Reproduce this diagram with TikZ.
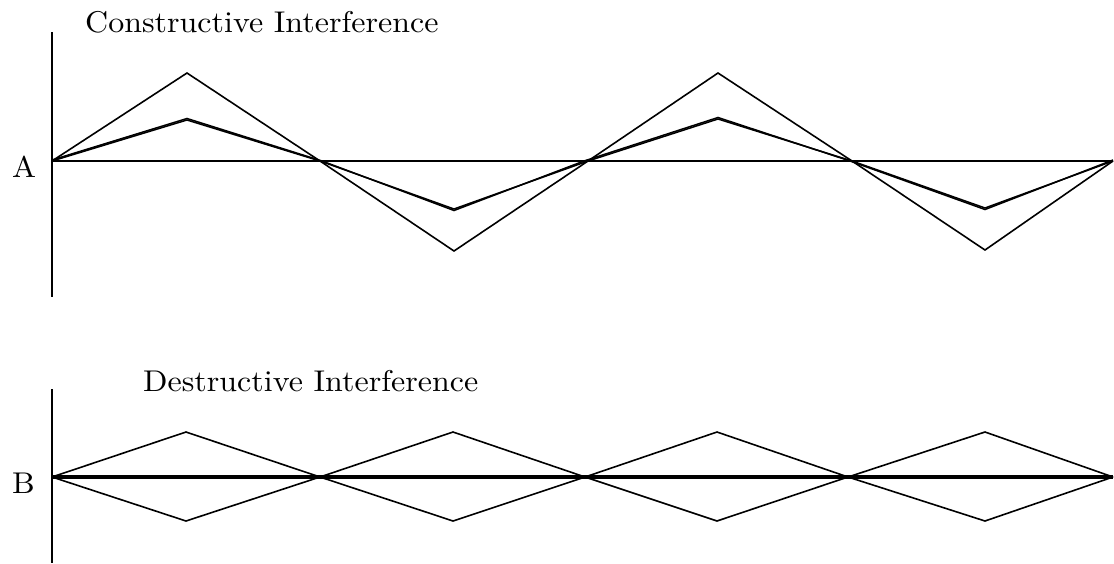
\documentclass[tikz,border=0pt]{standalone}
\usepackage{fontspec}
\newcommand{\bigtext}[1]{\scalebox{3.2}[3.0]{\fontsize{10}{12}\selectfont #1}}
\begin{document}
\begin{tikzpicture}[x=1pt,y=-1pt,
  thinline/.style={line width=1.6pt,line join=miter},
  sumline/.style={line width=1.5pt,line join=miter},
  label/.style={anchor=base west,inner sep=0pt}]
\useasboundingbox (0,0) rectangle (1114,563);
\fill[white] (0,0) rectangle (1114,563);

% --- constructive interference ---
\node[label] (titleA) at (85,32) {\bigtext{Constructive Interference}};
\node[label] (labA) at (12,177) {\bigtext{A}};
\draw[thinline] (52,32) -- (52,297);
\draw[thinline] (52,161) -- (1113,161);
% resulting wave
\draw[thinline] (52,161) -- (187,73) -- (320,161) -- (454,251) -- (588,161)
  -- (718,73) -- (852,161) -- (985,250) -- (1113,161);
% the two component waves, nearly on top of each other
\draw[sumline] (52,161) -- (187,120) -- (320,161) -- (454,209) -- (588,161)
  -- (718,119) -- (852,161) -- (985,208) -- (1113,161);
\draw[sumline] (52,160) -- (187,118.5) -- (322,161) -- (454,210.5) -- (584,161)
  -- (718,117.5) -- (850,161) -- (985,209.5) -- (1113,160);

% --- destructive interference ---
\node[label] (titleB) at (143,391) {\bigtext{Destructive Interference}};
\node[label] (labB) at (12,493) {\bigtext{B}};
\draw[thinline] (52,389) -- (52,563);
\draw[line width=3.4pt] (52,477) -- (1113,477);
\draw[thinline] (52,477) -- (186,432) -- (320,477) -- (453,521) -- (585,477)
  -- (717,432) -- (848,477) -- (985,521) -- (1113,477);
\draw[thinline] (52,477) -- (186,521) -- (320,477) -- (453,432) -- (585,477)
  -- (717,521) -- (848,477) -- (985,432) -- (1113,477);
\end{tikzpicture}
\end{document}
